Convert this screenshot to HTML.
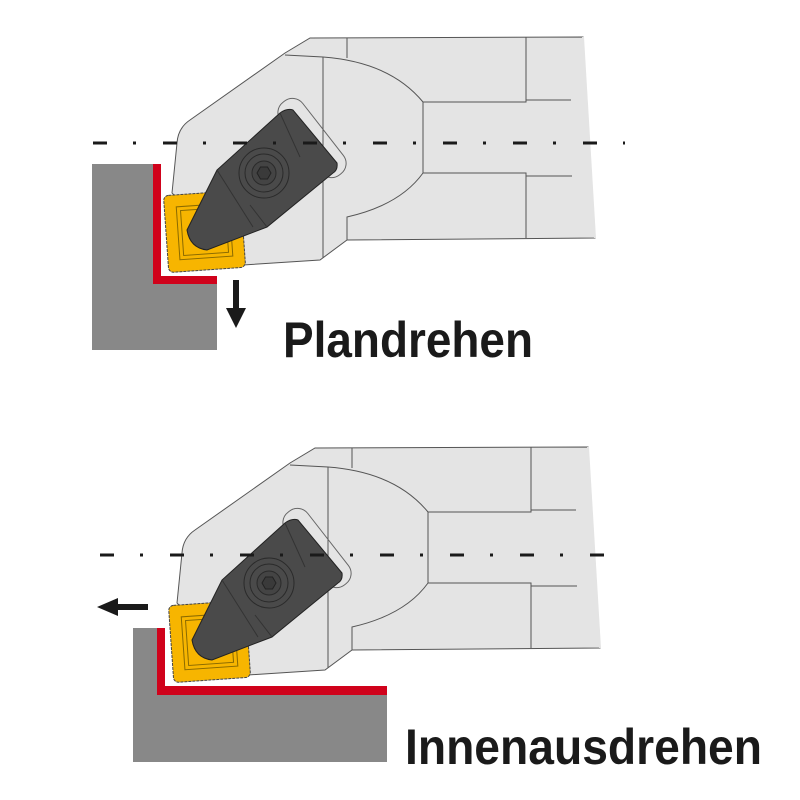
<!DOCTYPE html>
<html><head><meta charset="utf-8"><style>html,body{margin:0;padding:0;background:#fff}svg{display:block}</style></head>
<body>
<svg width="800" height="800" viewBox="0 0 800 800" xmlns="http://www.w3.org/2000/svg">
<defs>
<g id="tool">
  <path d="M172,193 L177,143 Q178,128 190,120 L285,53 L310,38 L583,37 L595,238 L347,240 L320,260 L243,265 Z" fill="#e4e4e4" stroke="#555" stroke-width="1"/>
  <path d="M583,37 L595,238" stroke="#e4e4e4" stroke-width="2"/>
  <g fill="none" stroke="#555" stroke-width="1">
    <path d="M285,55 L323,57 Q390,62 423,102 L423,173 Q400,205 347,217 L347,240"/>
    <path d="M323,57 L323,258"/>
    <path d="M347,38 L347,58"/>
    <path d="M423,102 L526,102 L526,37"/>
    <path d="M423,173 L526,173 L526,238"/>
    <path d="M526,100 L571,100 M526,176 L572,176"/>
  </g>
  <!-- slot outline -->
  <g transform="translate(312,138) rotate(52)">
    <rect x="-46" y="-14" width="92" height="28" rx="13" fill="none" stroke="#666" stroke-width="1"/>
  </g>
  <g transform="rotate(-4 204 231)">
    <rect x="166" y="193" width="77" height="77" rx="5" fill="#f7b500" stroke="#444" stroke-width="1" stroke-dasharray="3 1"/>
    <rect x="178" y="205" width="53" height="53" fill="none" stroke="#8a6a00" stroke-width="1"/>
    <rect x="182" y="209" width="45" height="45" fill="none" stroke="#8a6a00" stroke-width="1"/>
  </g>
  <path d="M187,230 L217,170 L280,113 Q287,108 293,110 L337,163 Q338,170 333,173 L267,227 L207,250 Q190,248 187,230 Z" fill="#4a4a4a" stroke="#222" stroke-width="1"/>
  <path d="M217,170 L253,227 M280,113 L300,157 M267,227 L250,205" stroke="#333" stroke-width="1" fill="none"/>
  <circle cx="264" cy="173" r="25" fill="none" stroke="#2a2a2a" stroke-width="1"/>
  <circle cx="264" cy="173" r="19" fill="none" stroke="#2a2a2a" stroke-width="1"/>
  <circle cx="264" cy="173" r="12" fill="#444" stroke="#2a2a2a" stroke-width="1"/>
  <polygon points="271,173 267.5,179 260.5,179 257,173 260.5,167 267.5,167" fill="#3a3a3a" stroke="#222" stroke-width="1"/>
</g>
</defs>

<use href="#tool"/>
<line x1="85" y1="143" x2="625" y2="143" stroke="#1a1a1a" stroke-width="3" stroke-dasharray="14 26 3 27" stroke-dashoffset="-8"/>
<path d="M92,164 L153,164 L153,284 L217,284 L217,350 L92,350 Z" fill="#888"/>
<path d="M153,164 L161,164 L161,276 L217,276 L217,284 L153,284 Z" fill="#d0021b"/>
<path d="M233,280 L239,280 L239,308 L246,308 L236,328 L226,308 L233,308 Z" fill="#1a1a1a"/>
<text x="283" y="357" font-family="Liberation Sans, sans-serif" font-weight="bold" font-size="50" fill="#1a1a1a" textLength="250" lengthAdjust="spacingAndGlyphs">Plandrehen</text>

<use href="#tool" transform="translate(5,410)"/>
<line x1="100" y1="555" x2="612" y2="555" stroke="#1a1a1a" stroke-width="3" stroke-dasharray="14 26 3 27"/>
<path d="M133,628 L157,628 L157,695 L387,695 L387,762 L133,762 Z" fill="#888"/>
<path d="M157,628 L165,628 L165,686 L387,686 L387,695 L157,695 Z" fill="#d0021b"/>
<path d="M148,604 L118,604 L118,598 L97,607 L118,616 L118,610 L148,610 Z" fill="#1a1a1a"/>
<text x="405" y="764" font-family="Liberation Sans, sans-serif" font-weight="bold" font-size="50" fill="#1a1a1a" textLength="357" lengthAdjust="spacingAndGlyphs">Innenausdrehen</text>
</svg>
</body></html>
